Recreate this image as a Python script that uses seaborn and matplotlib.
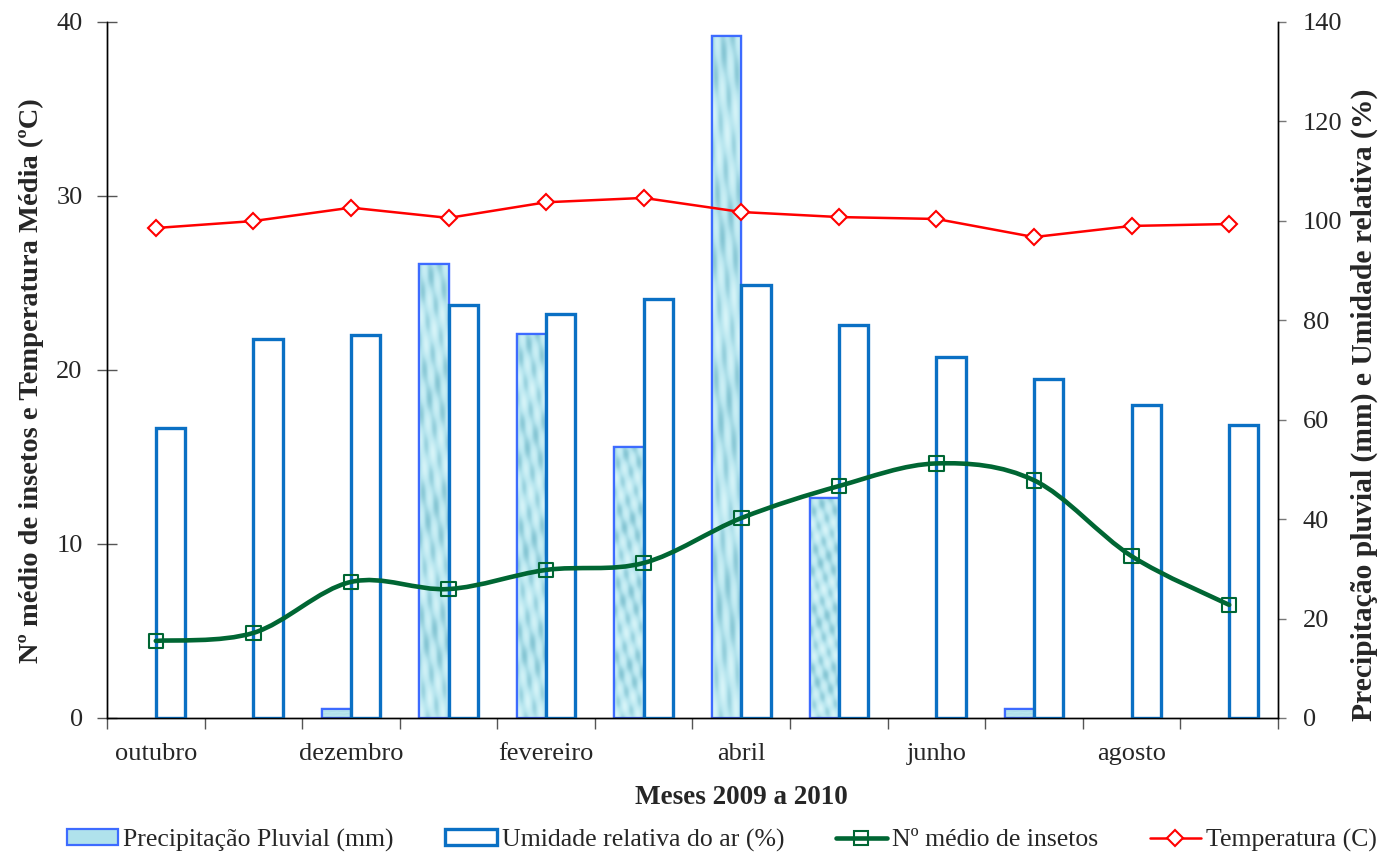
import numpy as np
import pandas as pd
import matplotlib
matplotlib.use("Agg")
import matplotlib.pyplot as plt
from matplotlib.path import Path
from matplotlib.patches import PathPatch, Patch
from matplotlib.lines import Line2D
from matplotlib.colors import LinearSegmentedColormap
import seaborn as sns

# Monthly series, October 2009 to September 2010
months = ["outubro", "novembro", "dezembro", "janeiro", "fevereiro", "março",
          "abril", "maio", "junho", "julho", "agosto", "setembro"]
tick_labels = ["outubro", "", "dezembro", "", "fevereiro", "", "abril", "",
               "junho", "", "agosto", ""]
precipitacao = [0, 0, 1.8, 91.3, 77.2, 54.5, 137.2, 44.2, 0, 1.8, 0, 0]
umidade = [58.3, 76.2, 77.0, 83.1, 81.3, 84.3, 87.1, 79.1, 72.6, 68.2, 63.0, 58.9]
insetos = [4.43, 4.89, 7.82, 7.41, 8.51, 8.91, 11.49, 13.33, 14.63, 13.66, 9.3, 6.5]
temperatura = [28.16, 28.56, 29.33, 28.74, 29.64, 29.89, 29.08, 28.79, 28.68,
               27.64, 28.28, 28.39]

lab_prec = "Precipitação Pluvial (mm)"
lab_umid = "Umidade relativa do ar (%)"
lab_ins = "Nº médio de insetos"
lab_temp = "Temperatura (C)"

sns.set_theme(style="white")
plt.rcParams["font.family"] = ["Liberation Serif", "DejaVu Serif"]
plt.rcParams["axes.linewidth"] = 1.0

FS_TICK = 19
FS_YLAB = 20.5
FS_YLAB_R = 21.3
FS_XLAB = 19.5
FS_LEG = 18.5
EDGE_PREC = "#3d6bff"
EDGE_UMID = "#0a70c4"
GREEN = "#006633"
RED = "#ff0000"

fig = plt.figure(figsize=(13.84, 8.56), dpi=100)
ax = fig.add_axes([107 / 1384, 1 - 718 / 856, (1278 - 107) / 1384, (718 - 22) / 856])
ax2 = ax.twinx()

# Bars (precipitation + humidity) on the base axes, scaled 0-140
bars = pd.DataFrame({
    "mes": months * 2,
    "valor": precipitacao + umidade,
    "serie": [lab_prec] * 12 + [lab_umid] * 12,
})
sns.barplot(data=bars, x="mes", y="valor", hue="serie", order=months,
            hue_order=[lab_prec, lab_umid], width=0.6, gap=0,
            ax=ax, legend=False, errorbar=None)

# Water-like texture for the precipitation bars
tex_cmap = LinearSegmentedColormap.from_list("agua", ["#86c6d4", "#b8e6ef", "#d6f4f8"])
gx, gy = np.meshgrid(np.linspace(0, 1, 40), np.linspace(0, 1, 200))
texture = (np.sin(gx * 17 + gy * 43) * 0.5 + np.sin(gx * 9 - gy * 71 + 1.3) * 0.35
           + np.sin(gy * 23 + 0.7) * 0.25)

prec_bars, umid_bars = ax.containers[0], ax.containers[1]
for p in prec_bars:
    p.set_facecolor("#b0e2ec")
    p.set_edgecolor(EDGE_PREC)
    p.set_linewidth(1.6)
    p.set_zorder(2)
    x0, w, h = p.get_x(), p.get_width(), p.get_height()
    if h > 0:
        im = ax.imshow(texture, extent=[x0, x0 + w, 0, h], aspect="auto",
                       cmap=tex_cmap, origin="lower", zorder=2.1,
                       interpolation="bilinear")
        im.set_clip_path(p)
        ax.add_patch(plt.Rectangle((x0, 0), w, h, fill=False,
                                   edgecolor=EDGE_PREC, lw=1.6, zorder=2.5))
    else:
        p.set_visible(False)
for p in umid_bars:
    p.set_facecolor("white")
    p.set_edgecolor(EDGE_UMID)
    p.set_linewidth(2.4)
    p.set_zorder(3)

ax.set_xlim(-0.5, 11.5)
ax.set_ylim(0, 140)
ax.set_yticks(np.arange(0, 141, 20))

# Lines on the twin axes, scaled 0-40
xs = np.arange(len(months))
pts = np.column_stack([xs, insetos])
verts = [tuple(pts[0])]
codes = [Path.MOVETO]
for i in range(len(pts) - 1):
    p0 = pts[i - 1] if i > 0 else pts[i]
    p1, p2 = pts[i], pts[i + 1]
    p3 = pts[i + 2] if i + 2 < len(pts) else pts[i + 1]
    c1 = p1 + (p2 - p0) / 6.0
    c2 = p2 - (p3 - p1) / 6.0
    verts += [tuple(c1), tuple(c2), tuple(p2)]
    codes += [Path.CURVE4] * 3
ax2.add_patch(PathPatch(Path(verts, codes), facecolor="none", edgecolor=GREEN,
                        lw=3.3, zorder=4, capstyle="round"))
sns.scatterplot(x=xs, y=insetos, marker="s", s=110, facecolor="none",
                edgecolor=GREEN, linewidth=1.5, ax=ax2, zorder=5, legend=False)

sns.lineplot(x=xs, y=temperatura, color=RED, lw=1.8, marker="D", markersize=8,
             markerfacecolor="white", markeredgecolor=RED, markeredgewidth=1.5,
             ax=ax2, zorder=6, legend=False)

ax2.set_ylim(0, 40)
ax2.set_yticks(np.arange(0, 41, 10))
ax2.set_xlim(-0.5, 11.5)

# Swap sides: temperature/insect scale on the left, bar scale on the right
ax.yaxis.tick_right()
ax2.yaxis.tick_left()
ax.set_ylabel("")
ax2.set_ylabel("")
ax.set_xlabel("")

ax.set_xticks(xs)
ax.set_xticklabels(tick_labels, fontsize=FS_TICK)
ax.set_xticks(np.arange(-0.5, 12, 1), minor=True)
ax.tick_params(axis="x", which="major", length=0, pad=18)
ax.tick_params(axis="x", which="minor", length=8, width=1, color="#555555",
               direction="out", bottom=True)
ax.tick_params(axis="y", which="major", length=6, width=1, color="#777777",
               direction="out", labelsize=FS_TICK, pad=12, right=True, left=False,
               labelright=True, labelleft=False)
ax2.tick_params(axis="y", which="major", length=15, width=1, color="#555555",
                direction="inout", labelsize=FS_TICK, pad=10, left=True, right=False,
                labelleft=True, labelright=False)
ax2.tick_params(axis="x", length=0, labelbottom=False)

for a in (ax, ax2):
    a.spines["top"].set_visible(False)
    for s in ("left", "right", "bottom"):
        a.spines[s].set_color("black")
        a.spines[s].set_linewidth(1.0)
    a.grid(False)
ax.patch.set_visible(False)

fig.text(31 / 1384, 1 - 381 / 856, "Nº médio de insetos e Temperatura Média (ºC)",
         rotation=90, ha="center", va="center", fontsize=FS_YLAB, fontweight="bold")
fig.text(1364 / 1384, 1 - 405 / 856, "Precipitação pluvial (mm) e Umidade relativa (%)",
         rotation=90, ha="center", va="center", fontsize=FS_YLAB_R, fontweight="bold")
fig.text(741 / 1384, 1 - 798 / 856, "Meses 2009 a 2010", ha="center", va="center",
         fontsize=FS_XLAB, fontweight="bold")

handles = [
    Patch(facecolor="#b0e2ec", edgecolor=EDGE_PREC, linewidth=1.6),
    Patch(facecolor="white", edgecolor=EDGE_UMID, linewidth=2.4),
    Line2D([], [], color=GREEN, lw=3.3, marker="s", markersize=10,
           markerfacecolor="none", markeredgecolor=GREEN, markeredgewidth=1.5),
    Line2D([], [], color=RED, lw=1.8, marker="D", markersize=8,
           markerfacecolor="white", markeredgecolor=RED, markeredgewidth=1.5),
]
fig.legend(handles, [lab_prec, lab_umid, lab_ins, lab_temp], loc="center",
           bbox_to_anchor=(722 / 1384, 1 - 840 / 856), ncol=4, frameon=False,
           fontsize=FS_LEG, handlelength=2.0, handleheight=0.55, handletextpad=0.2,
           columnspacing=2.0, borderpad=0)

fig.savefig("out.png", dpi=100)
